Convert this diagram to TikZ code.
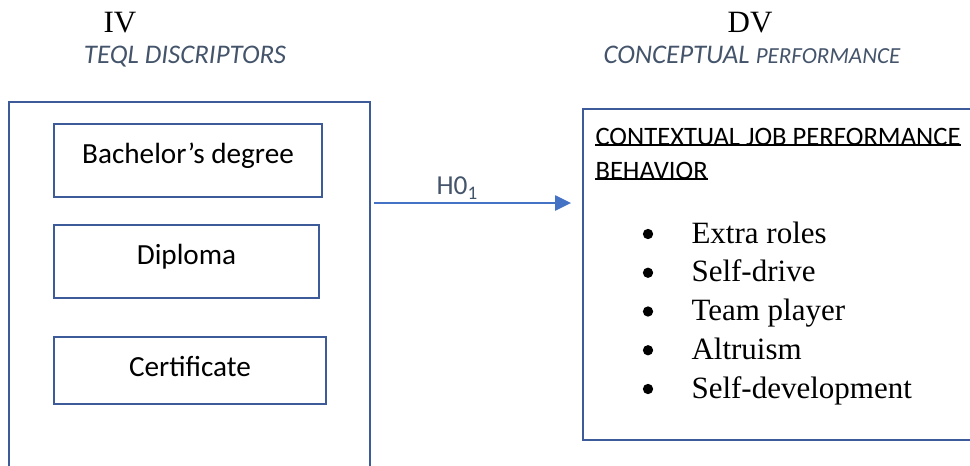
\documentclass[tikz,border=0pt]{standalone}
\usepackage{fontspec}
\setmainfont{Liberation Serif}
\newfontfamily\calibri{Carlito}
\usetikzlibrary{arrows.meta}

\definecolor{boxblue}{HTML}{3D5A99}
\definecolor{arrowblue}{HTML}{4472C4}
\definecolor{slate}{HTML}{44546A}

\begin{document}
\begin{tikzpicture}[x=0.387pt,y=-0.387pt,
  every node/.style={inner sep=0pt},
  boxline/.style={draw=boxblue,line width=0.8pt},
  frame/.style={anchor=north west},
  qualbox/.style={boxline,anchor=base,
    text height=15.1pt,text depth=13.2pt,
    font=\calibri\fontsize{11.3}{13}\selectfont},
  vartitle/.style={anchor=base,font=\fontsize{12}{14}\selectfont},
  varname/.style={text=slate,font=\calibri\itshape\fontsize{10.4}{12}\selectfont},
  headtext/.style={anchor=base west,font=\calibri\fontsize{10.3}{12}\selectfont},
  headrule/.style={line width=0.75pt,yshift=-1.8pt},
  itemtext/.style={font=\fontsize{12}{14}\selectfont},
  itemdot/.style={circle,fill=black,minimum size=4pt},
  hyparrow/.style={draw=arrowblue,line width=0.9pt,
    -{Triangle[length=6.2pt,width=5.8pt]},shorten >=4.6pt},
  hlabel/.style={text=slate,font=\calibri\fontsize{10.6}{12}\selectfont}]
  \path[use as bounding box] (0,0) rectangle (970,465);

  % headings
  \node[vartitle] (iv) at (120,32) {IV};
  \node[vartitle] (dv) at (750,32) {DV};
  \node[varname,anchor=base] (ivname) at (185,63) {TEQL DISCRIPTORS};
  \node[varname,anchor=base west] (dvname) at (603,63)
    {CONCEPTUAL {\fontsize{8.9}{10}\selectfont PERFORMANCE}};

  % independent variable (runs off the bottom)
  \node[frame,minimum width=139.3pt,minimum height=140.3pt] (ivbox) at (9,102) {};
  \draw[boxline] (ivbox.south west) -- (ivbox.north west) -- (ivbox.north east) -- (ivbox.south east);
  \node[qualbox,minimum width=103.7pt] (bachelor) at (188,163) {Bachelor’s degree};
  \node[qualbox,minimum width=102.6pt] (diploma) at (186.5,264) {Diploma};
  \node[qualbox,minimum width=105.3pt,text depth=10.8pt] (certificate) at (190,376) {Certificate};

  % dependent variable (runs off the right)
  \node[frame,minimum width=149.7pt,minimum height=127.7pt] (dvbox) at (583,109) {};
  \draw[boxline] (dvbox.north east) -- (dvbox.north west) -- (dvbox.south west) -- (dvbox.south east);
  \node[headtext] (head1) at (595,145) {CONTEXTUAL JOB PERFORMANCE};
  \node[headtext] (head2) at (595,179) {BEHAVIOR};
  \draw[headrule] (head1.base west) -- (head1.base east);
  \draw[headrule] (head2.base west) -- (head2.base east);
  \foreach \skill [count=\i] in {Extra roles,Self-drive,Team player,Altruism,Self-development}{
    \node[itemdot] (dot\i) at (648,195.25+38.75*\i) {};
    \node[itemtext,anchor=base west] (skill\i) at (691,204.25+38.75*\i) {\skill};
  }

  % hypothesis
  \coordinate (hstart) at (374,203);
  \draw[hyparrow] (hstart) -- (hstart -| dvbox.west)
    node[hlabel,pos=0.40,anchor=base,yshift=3.1pt] (h0) {H0\textsubscript{1}};
\end{tikzpicture}
\end{document}
